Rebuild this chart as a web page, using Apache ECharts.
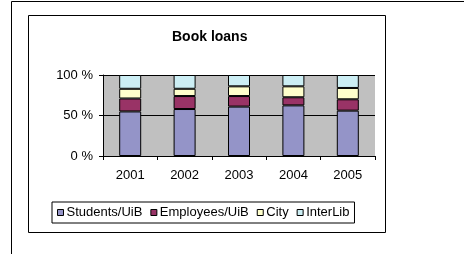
<!DOCTYPE html>
<html><head><meta charset="utf-8">
<script src="https://cdn.jsdelivr.net/npm/echarts@6/dist/echarts.min.js"></script>
<style>html,body{margin:0;padding:0;background:#fff}#c{width:464px;height:254px}</style>
</head><body><div id="c"></div>
<script>
var categories = ['2001', '2002', '2003', '2004', '2005'];
var students = [55, 58, 61, 62.5, 56];
var employees = [16, 16, 13, 10, 14];
var city = [12, 9, 12, 13.5, 14];
var interLib = [17, 17, 14, 14, 16];
var seriesNames = ['Students/UiB', 'Employees/UiB', 'City', 'InterLib'];
var colors = ['#9494c8', '#993366', '#ffffcc', '#cceef4'];

var chart = echarts.init(document.getElementById('c'));
var font = 'Liberation Sans, Arial, sans-serif';
function mk(name, data, color) {
  return {name: name, type: 'bar', stack: 'a', data: data, barWidth: 22,
    itemStyle: {color: color, borderColor: '#000', borderWidth: 1}};
}
chart.setOption({
  animation: false,
  textStyle: {fontFamily: font},
  title: {text: 'Book loans', left: 167, top: 25,
    textStyle: {fontSize: 14, fontWeight: 'bold', color: '#000', fontFamily: font}},
  graphic: [
    {type: 'line', shape: {x1: 11.5, y1: 1.5, x2: 464, y2: 1.5}, style: {stroke: '#000', lineWidth: 1}},
    {type: 'line', shape: {x1: 11.5, y1: 1.5, x2: 11.5, y2: 254}, style: {stroke: '#000', lineWidth: 1}},
    {type: 'rect', shape: {x: 28.5, y: 15.5, width: 357, height: 217}, style: {fill: 'none', stroke: '#000', lineWidth: 1}, z: -1}
  ],
  grid: {left: 103, right: 89, top: 75, bottom: 98, show: true, backgroundColor: '#c0c0c0', borderWidth: 0},
  legend: {data: seriesNames, left: 52, top: 202, padding: [4, 5, 4, 5], itemGap: 8,
    itemWidth: 6, itemHeight: 6, icon: 'rect', borderColor: '#000', borderWidth: 1,
    itemStyle: {borderColor: '#000', borderWidth: 1},
    textStyle: {fontSize: 13, color: '#000', fontFamily: font, padding: [0, 0, 0, -2]}},
  xAxis: {type: 'category', data: categories,
    axisLine: {lineStyle: {color: '#000', width: 1}},
    axisTick: {show: true, length: 4, lineStyle: {color: '#000'}},
    axisLabel: {color: '#000', fontSize: 13, margin: 13, fontFamily: font}},
  yAxis: {type: 'value', min: 0, max: 100, interval: 50,
    axisLine: {show: true, lineStyle: {color: '#000', width: 1}},
    axisTick: {show: true, length: 4, lineStyle: {color: '#000'}},
    splitLine: {show: true, lineStyle: {color: '#000', width: 1}},
    axisLabel: {formatter: '{value} %', color: '#000', fontSize: 13, margin: 10, fontFamily: font}},
  series: [mk(seriesNames[0], students, colors[0]), mk(seriesNames[1], employees, colors[1]),
           mk(seriesNames[2], city, colors[2]), mk(seriesNames[3], interLib, colors[3])]
});
</script></body></html>
